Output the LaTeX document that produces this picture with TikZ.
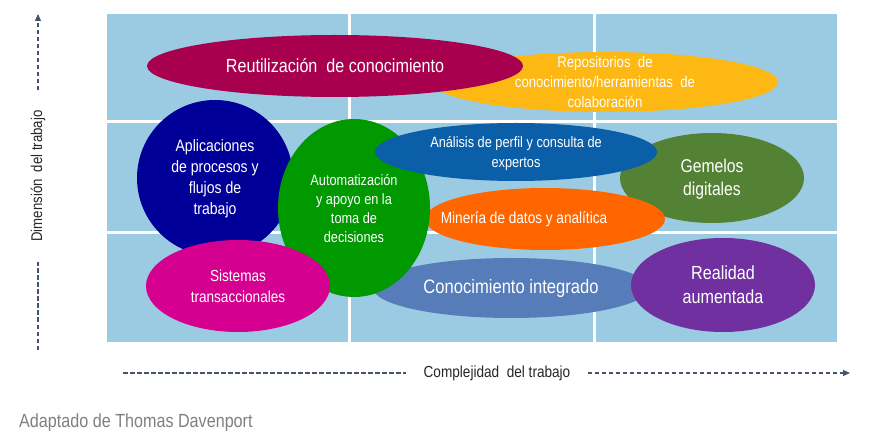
\documentclass[tikz,border=0pt]{standalone}
\usepackage{fontspec}
\setmainfont{Liberation Sans}[FakeStretch=0.85]
\usetikzlibrary{shapes.geometric,arrows.meta}
\definecolor{gridc}{HTML}{9BCBE2}
\definecolor{axisc}{HTML}{44546A}
\definecolor{reusec}{HTML}{A8004E}
\definecolor{repoc}{HTML}{FDB813}
\definecolor{appsc}{HTML}{000099}
\definecolor{autoc}{HTML}{009900}
\definecolor{anac}{HTML}{0B5EA8}
\definecolor{minec}{HTML}{FF6600}
\definecolor{gemc}{HTML}{548235}
\definecolor{sysc}{HTML}{D5008F}
\definecolor{integc}{HTML}{567DBA}
\definecolor{realc}{HTML}{7030A0}
\begin{document}
\begin{tikzpicture}[
  x=1pt, y=-1pt,
  blob/.style={ellipse, draw=none, inner sep=0pt},
  txt/.style={text=white, align=center, inner sep=0pt},
  axis/.style={draw=axisc, line width=1.2pt, dash pattern=on 4.5pt off 2.5pt},
  axlabel/.style={text=black!85, inner ysep=2pt}
]
\useasboundingbox (0,0) rectangle (888,443);

% Grid
\fill[gridc] (107,14) rectangle (837,342);
\draw[white, line width=3pt] (349,14) -- (349,342) (594,14) -- (594,342)
  (107,122) -- (837,122) (107,233) -- (837,233);

% Ellipses, back to front
\node[blob, fill=repoc, minimum width=346pt, minimum height=60pt,
  label={[txt, font=\fontsize{15.5}{20}\selectfont]center:Repositorios\ \ de\\conocimiento/herramientas\ \ de\\colaboración}] (repo) at (605,82) {};
\node[blob, fill=reusec, minimum width=376pt, minimum height=62pt,
  label={[txt, font=\fontsize{19}{23}\selectfont]center:Reutilización\ \ de conocimiento}] (reuse) at (335,66) {};
\node[blob, fill=gemc, minimum width=184pt, minimum height=90pt,
  label={[txt, font=\fontsize{18.5}{23}\selectfont, yshift=-1pt]center:Gemelos\\digitales}] (gem) at (712,178) {};
\node[blob, fill=minec, minimum width=240pt, minimum height=62pt,
  label={[txt, font=\fontsize{16}{20}\selectfont, xshift=-21pt]center:Minería de datos y analítica}] (mine) at (545,219) {};
\node[blob, fill=integc, minimum width=276pt, minimum height=60pt,
  label={[txt, font=\fontsize{19.5}{23}\selectfont]center:Conocimiento integrado}] (integ) at (511,288) {};
\node[blob, fill=appsc, minimum width=156pt, minimum height=156pt,
  label={[txt, font=\fontsize{16.5}{21}\selectfont, yshift=-1pt]center:Aplicaciones\\de procesos y\\flujos de\\trabajo}] (apps) at (215,178) {};
\node[blob, fill=autoc, minimum width=152pt, minimum height=178pt,
  label={[txt, font=\fontsize{15}{19}\selectfont, yshift=-1pt]center:Automatización\\y apoyo en la\\toma de\\decisiones}] (auto) at (354,208) {};
\node[blob, fill=sysc, minimum width=184pt, minimum height=92pt,
  label={[txt, font=\fontsize{16}{21}\selectfont]center:Sistemas\\transaccionales}] (sys) at (238,286) {};
\node[blob, fill=anac, minimum width=282pt, minimum height=58pt,
  label={[txt, font=\fontsize{15}{20}\selectfont, yshift=-2pt]center:Análisis de perfil y consulta de\\expertos}] (ana) at (516,152) {};
\node[blob, fill=realc, minimum width=184pt, minimum height=94pt,
  label={[txt, font=\fontsize{19}{24}\selectfont]center:Realidad\\aumentada}] (real) at (723,285) {};

% Axes
\node[axlabel, rotate=90, inner xsep=20pt, font=\fontsize{15.5}{18}\selectfont] (ylabel) at (38,176) {Dimensión\ \ del trabajo};
\coordinate (ybot) at (38,350);
\coordinate (ytop) at (38,14);
\draw[axis] (ybot) -- (ylabel.west);
\draw[axis, -{Triangle[length=7pt, width=6pt]}] (ylabel.east) -- (ytop);

\node[axlabel, inner xsep=17pt, font=\fontsize{16}{19}\selectfont] (xlabel) at (497,373) {Complejidad\ \ del trabajo};
\coordinate (xleft) at (123,373);
\coordinate (xright) at (850,373);
\draw[axis] (xleft) -- (xlabel.west);
\draw[axis, -{Triangle[length=7pt, width=6pt]}] (xlabel.east) -- (xright);

% Source
\node[anchor=west, text=black!50, inner sep=0pt, font=\fontsize{19}{22}\selectfont] (src) at (19,423) {Adaptado de Thomas Davenport};
\end{tikzpicture}
\end{document}
